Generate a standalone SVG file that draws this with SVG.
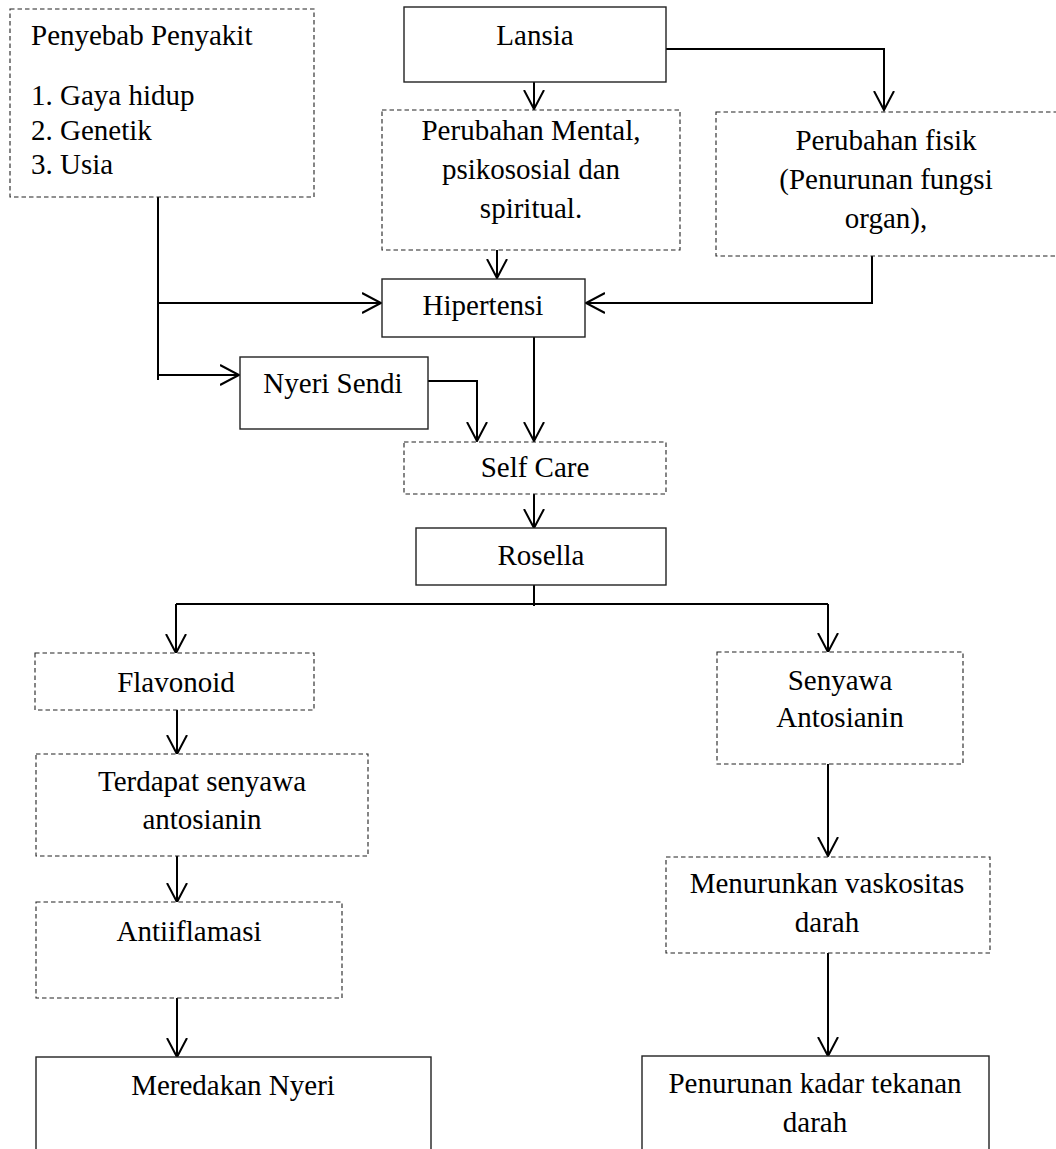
<svg xmlns="http://www.w3.org/2000/svg" width="1056" height="1149" viewBox="0 0 1056 1149">
<style>
text{font-family:"Liberation Serif","Times New Roman",serif;font-size:29px;fill:#000}
.c{text-anchor:middle}
.solid{fill:#fff;stroke:#222;stroke-width:1.4}
.dash{fill:#fff;stroke:#222;stroke-width:1.1;stroke-dasharray:4.5 3}
.conn path{fill:none;stroke:#000;stroke-width:2}
</style>
<defs>
<marker id="arr" markerUnits="userSpaceOnUse" markerWidth="22" markerHeight="24" refX="19" refY="11" orient="auto" viewBox="0 0 22 24">
<path d="M0,1 L19,11 L0,21" fill="none" stroke="#000" stroke-width="2"/>
</marker>
</defs>
<rect width="1056" height="1149" fill="#fff"/>
<g class="conn" id="connectors">
<path d="M158,197 V380"/>
<path d="M158,303 H381" marker-end="url(#arr)"/>
<path d="M158,375 H239" marker-end="url(#arr)"/>
<path d="M534,82 V109" marker-end="url(#arr)"/>
<path d="M666,49 H884 V110" marker-end="url(#arr)"/>
<path d="M497,250 V278" marker-end="url(#arr)"/>
<path d="M872,256 V303 H586" marker-end="url(#arr)"/>
<path d="M428,381 H477 V441" marker-end="url(#arr)"/>
<path d="M534,337 V441" marker-end="url(#arr)"/>
<path d="M534,494 V528" marker-end="url(#arr)"/>
<path d="M534,585 V606"/>
<path d="M176,604 H828"/>
<path d="M176,604 V653" marker-end="url(#arr)"/>
<path d="M828,604 V652" marker-end="url(#arr)"/>
<path d="M177,710 V754" marker-end="url(#arr)"/>
<path d="M177,856 V902" marker-end="url(#arr)"/>
<path d="M177,998 V1057" marker-end="url(#arr)"/>
<path d="M828,764 V856" marker-end="url(#arr)"/>
<path d="M828,953 V1056" marker-end="url(#arr)"/>
</g>
<g id="penyebab">
<rect class="dash" x="10" y="9" width="304" height="188"/>
<text x="31" y="45">Penyebab Penyakit</text>
<text x="31" y="105">1. Gaya hidup</text>
<text x="31" y="140">2. Genetik</text>
<text x="31" y="174">3. Usia</text>
</g>
<g id="lansia">
<rect class="solid" x="404" y="7" width="262" height="75"/>
<text class="c" x="535" y="45">Lansia</text>
</g>
<g id="perubahan-mental">
<rect class="dash" x="382" y="110" width="298" height="140"/>
<text class="c" x="531" y="140">Perubahan Mental,</text>
<text class="c" x="531" y="179">psikososial dan</text>
<text class="c" x="531" y="218">spiritual.</text>
</g>
<g id="perubahan-fisik">
<rect class="dash" x="716" y="112" width="345" height="144"/>
<text class="c" x="886" y="150">Perubahan fisik</text>
<text class="c" x="886" y="189">(Penurunan fungsi</text>
<text class="c" x="886" y="228">organ),</text>
</g>
<g id="hipertensi">
<rect class="solid" x="382" y="279" width="203" height="58"/>
<text class="c" x="483" y="315">Hipertensi</text>
</g>
<g id="nyeri-sendi">
<rect class="solid" x="240" y="357" width="188" height="72"/>
<text class="c" x="333" y="393">Nyeri Sendi</text>
</g>
<g id="self-care">
<rect class="dash" x="404" y="442" width="262" height="52"/>
<text class="c" x="535" y="477">Self Care</text>
</g>
<g id="rosella">
<rect class="solid" x="416" y="528" width="250" height="57"/>
<text class="c" x="541" y="565">Rosella</text>
</g>
<g id="flavonoid">
<rect class="dash" x="35" y="653" width="279" height="57"/>
<text class="c" x="176" y="692">Flavonoid</text>
</g>
<g id="senyawa-antosianin">
<rect class="dash" x="717" y="652" width="246" height="112"/>
<text class="c" x="840" y="690">Senyawa</text>
<text class="c" x="840" y="727">Antosianin</text>
</g>
<g id="terdapat">
<rect class="dash" x="36" y="754" width="332" height="102"/>
<text class="c" x="202" y="791">Terdapat senyawa</text>
<text class="c" x="202" y="829">antosianin</text>
</g>
<g id="antiiflamasi">
<rect class="dash" x="36" y="902" width="306" height="96"/>
<text class="c" x="189" y="941">Antiiflamasi</text>
</g>
<g id="meredakan">
<rect class="solid" x="36" y="1057" width="395" height="110"/>
<text class="c" x="233" y="1095">Meredakan Nyeri</text>
</g>
<g id="menurunkan">
<rect class="dash" x="666" y="857" width="324" height="96"/>
<text class="c" x="827" y="893">Menurunkan vaskositas</text>
<text class="c" x="827" y="932">darah</text>
</g>
<g id="penurunan">
<rect class="solid" x="642" y="1056" width="347" height="110"/>
<text class="c" x="815" y="1093">Penurunan kadar tekanan</text>
<text class="c" x="815" y="1132">darah</text>
</g>
</svg>
